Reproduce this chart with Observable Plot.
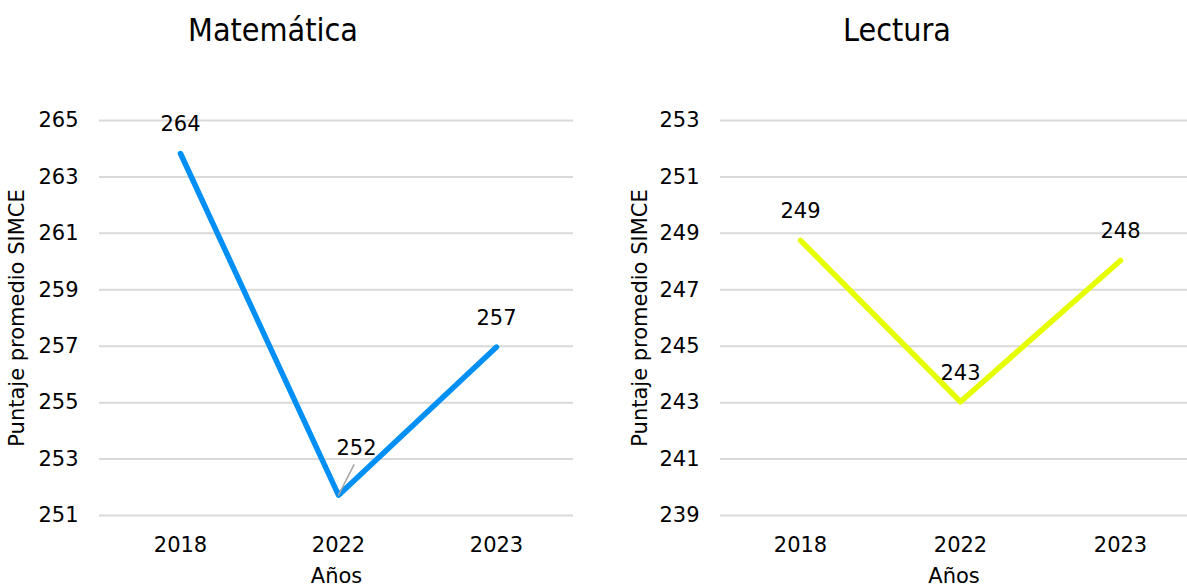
<!DOCTYPE html>
<html>
<head>
<meta charset="utf-8">
<script src="https://cdn.jsdelivr.net/npm/d3@7"></script>
<script src="https://cdn.jsdelivr.net/npm/@observablehq/plot@0.6"></script>
<style>
  html, body { margin: 0; padding: 0; background: #fff; overflow: hidden; }
  #wrap { display: flex; width: 1187px; height: 588px; font-family: "DejaVu Sans", Verdana, sans-serif; }
  .col { position: relative; height: 588px; }
  .title { position: absolute; top: 11px; transform: translateX(-50%); font-family: "DejaVu Sans Condensed", "DejaVu Sans", sans-serif; font-size: 32px; color: #000; white-space: nowrap; line-height: 38px; }
  .col svg { position: absolute; top: 60px; left: 0; }
</style>
</head>
<body>
<div id="wrap"></div>
<script>
const years = ["2018", "2022", "2023"];
const mathValues = [263.83, 251.72, 256.97];
const mathLabels = ["264", "252", "257"];
const readValues = [248.75, 243.03, 248.04];
const readLabels = ["249", "243", "248"];
const mathTicks = [251, 253, 255, 257, 259, 261, 263, 265];
const readTicks = [239, 241, 243, 245, 247, 249, 251, 253];

const yLabel = "Puntaje promedio SIMCE";
const xLabel = "Años";

function panel({title, titleX, values, labels, ticks, color, width, marginLeft, marginRight, xRange, yLabelOffset, leader}) {
  const data = years.map((y, i) => ({year: y, value: values[i], label: labels[i]}));
  const col = document.createElement("div");
  col.className = "col";
  col.style.width = width + "px";
  const t = document.createElement("div");
  t.className = "title";
  t.style.left = titleX + "px";
  t.textContent = title;
  col.appendChild(t);

  const leaderYear = leader ? leader.year : null;
  const plain = data.filter(d => d.year !== leaderYear);
  const lead = data.filter(d => d.year === leaderYear);

  const marks = [
    Plot.ruleY(ticks, {stroke: "#d9d9d9", strokeWidth: 2}),
    Plot.axisY({ticks, tickSize: 0, tickPadding: 21, fontSize: 21, label: yLabel, labelAnchor: "center", labelOffset: yLabelOffset, labelArrow: "none"}),
    Plot.axisX({tickSize: 0, tickPadding: 22, fontSize: 21, label: xLabel, labelAnchor: "center", labelOffset: 67, labelArrow: "none"}),
    Plot.line(data, {x: "year", y: "value", stroke: color, strokeWidth: 5.5, strokeLinecap: "round", strokeLinejoin: "round"}),
    Plot.text(plain, {x: "year", y: "value", text: "label", fontSize: 21, fill: "#000", lineAnchor: "middle", dy: -29})
  ];
  if (leader) {
    marks.push(Plot.vector(lead, {x: "year", y: "value", length: leader.length, rotate: leader.rotate, anchor: "start", stroke: "#a6a6a6", strokeWidth: 1.5,
      shape: {draw(context, l) { context.moveTo(0, 0); context.lineTo(0, -l); }}}));
    marks.push(Plot.text(lead, {x: "year", y: "value", text: "label", fontSize: 21, fill: "#000", lineAnchor: "middle", dx: leader.dx, dy: leader.dy}));
  }
  const svg = Plot.plot({
    width,
    height: 528,
    marginTop: 60,
    marginBottom: 73,
    marginLeft,
    marginRight,
    style: {fontFamily: "DejaVu Sans, Verdana, sans-serif", fontSize: "21px", color: "#000", background: "transparent", overflow: "visible"},
    x: {type: "point", domain: years, range: xRange, padding: 0, label: xLabel},
    y: {domain: [ticks[0], ticks[ticks.length - 1]], label: yLabel},
    marks
  });
  col.appendChild(svg);
  return col;
}

const wrap = document.getElementById("wrap");
wrap.appendChild(panel({
  title: "Matemática", titleX: 273, values: mathValues, labels: mathLabels, ticks: mathTicks,
  color: "#0090f5", width: 594, marginLeft: 99, marginRight: 21, xRange: [179, 496], yLabelOffset: 90,
  leader: {year: "2022", length: 34, rotate: 27, dx: 18, dy: -47}
}));
wrap.appendChild(panel({
  title: "Lectura", titleX: 303, values: readValues, labels: readLabels, ticks: readTicks,
  color: "#e5ff00", width: 593, marginLeft: 126, marginRight: 0, xRange: [206, 526], yLabelOffset: 88,
  leader: null
}));
</script>
</body>
</html>
